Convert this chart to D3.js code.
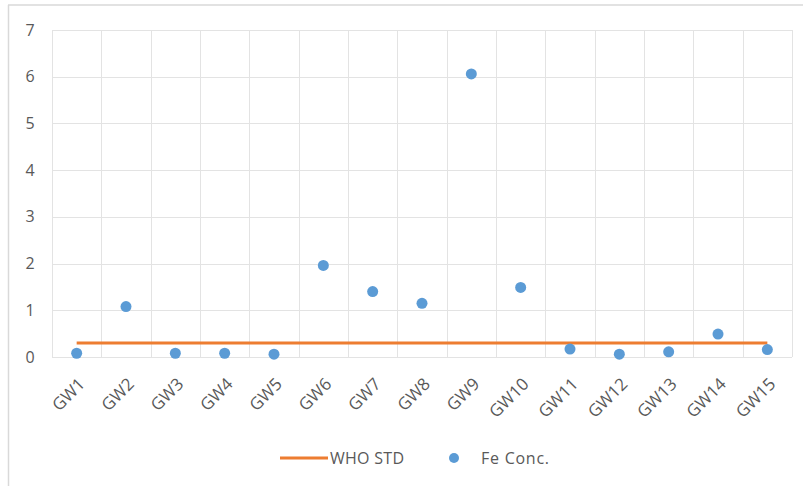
<!DOCTYPE html>
<html>
<head>
<meta charset="utf-8">
<script src="https://cdn.jsdelivr.net/npm/d3@7"></script>
<style>
  html, body { margin: 0; padding: 0; background: #fff; }
  svg { display: block; }
  text { font-family: "Open Sans", "Liberation Sans", sans-serif; fill: #595959; }
</style>
</head>
<body>
<svg id="chart" width="803" height="486"></svg>
<script>
// Groundwater wells and measured iron concentration (mg/L)
const wells = ["GW1","GW2","GW3","GW4","GW5","GW6","GW7","GW8","GW9","GW10","GW11","GW12","GW13","GW14","GW15"];
const feConc = [0.08, 1.08, 0.08, 0.08, 0.06, 1.96, 1.40, 1.15, 6.06, 1.49, 0.17, 0.06, 0.11, 0.49, 0.16];
// WHO guideline value for iron
const whoStd = [0.3, 0.3, 0.3, 0.3, 0.3, 0.3, 0.3, 0.3, 0.3, 0.3, 0.3, 0.3, 0.3, 0.3, 0.3];
const yTicks = [0, 1, 2, 3, 4, 5, 6, 7];
const seriesNames = ["WHO STD", "Fe Conc."];

const svg = d3.select("#chart");
const W = 803, H = 486;
const plot = { left: 52, right: 792, top: 30, bottom: 357 };
const FONT = '"Open Sans", "Liberation Sans", sans-serif';

// chart frame (top and left edges)
svg.append("line").attr("x1", 8).attr("x2", W).attr("y1", 5).attr("y2", 5)
  .attr("stroke", "#d9d9d9").attr("stroke-width", 1.5);
svg.append("line").attr("x1", 8.5).attr("x2", 8.5).attr("y1", 5).attr("y2", H)
  .attr("stroke", "#d9d9d9").attr("stroke-width", 1.5);

const x = d3.scaleBand().domain(wells).range([plot.left, plot.right]);
const y = d3.scaleLinear().domain([0, 7]).range([plot.bottom, plot.top]);

// horizontal gridlines
svg.append("g").selectAll("line").data(yTicks).join("line")
  .attr("x1", plot.left).attr("x2", plot.right)
  .attr("y1", d => Math.round(y(d)) + 0.5).attr("y2", d => Math.round(y(d)) + 0.5)
  .attr("stroke", "#e3e3e3").attr("stroke-width", 1);

// vertical gridlines at category boundaries
const bounds = wells.map(w => x(w)).concat([plot.right]);
svg.append("g").selectAll("line").data(bounds).join("line")
  .attr("x1", d => Math.round(d) + 0.5).attr("x2", d => Math.round(d) + 0.5)
  .attr("y1", plot.top).attr("y2", plot.bottom)
  .attr("stroke", "#e3e3e3").attr("stroke-width", 1);

// y axis labels
const yAxis = d3.axisLeft(y).tickValues(yTicks).tickFormat(d3.format("d")).tickSize(0).tickPadding(0);
const gy = svg.append("g").attr("transform", `translate(${plot.left - 22},0)`).call(yAxis);
gy.select(".domain").remove();
gy.selectAll("text").attr("font-size", 16).attr("text-anchor", "middle")
  .style("font-family", FONT).attr("fill", "#595959");

// x axis labels, rotated
const xAxis = d3.axisBottom(x).tickSize(0).tickPadding(0);
const gx = svg.append("g").attr("transform", `translate(0,${plot.bottom})`).call(xAxis);
gx.select(".domain").remove();
gx.selectAll("text")
  .attr("font-size", 17)
  .attr("text-anchor", "end")
  .attr("dy", "0.35em")
  .attr("y", 0)
  .attr("transform", "translate(5,24) rotate(-45)")
  .style("font-family", FONT)
  .attr("fill", "#595959");

const cx = d => x(d) + x.bandwidth() / 2;

// WHO standard line
const line = d3.line().x((d, i) => cx(wells[i])).y(d => y(d));
svg.append("path").datum(whoStd).attr("d", line)
  .attr("fill", "none").attr("stroke", "#ED7D31").attr("stroke-width", 3);

// Fe concentration points
svg.append("g").selectAll("circle").data(feConc).join("circle")
  .attr("cx", (d, i) => cx(wells[i])).attr("cy", d => y(d))
  .attr("r", 5.5).attr("fill", "#5B9BD5");

// legend
const lg = svg.append("g");
const ly = 458;
lg.append("line").attr("x1", 280).attr("x2", 328).attr("y1", ly).attr("y2", ly)
  .attr("stroke", "#ED7D31").attr("stroke-width", 3);
lg.append("text").attr("x", 330).attr("y", ly).attr("dy", "0.35em")
  .attr("font-size", 16).attr("textLength", 74).text(seriesNames[0]);
lg.append("circle").attr("cx", 454).attr("cy", ly).attr("r", 5).attr("fill", "#5B9BD5");
lg.append("text").attr("x", 481).attr("y", ly).attr("dy", "0.35em")
  .attr("font-size", 16).attr("textLength", 68).text(seriesNames[1]);
</script>
</body>
</html>
